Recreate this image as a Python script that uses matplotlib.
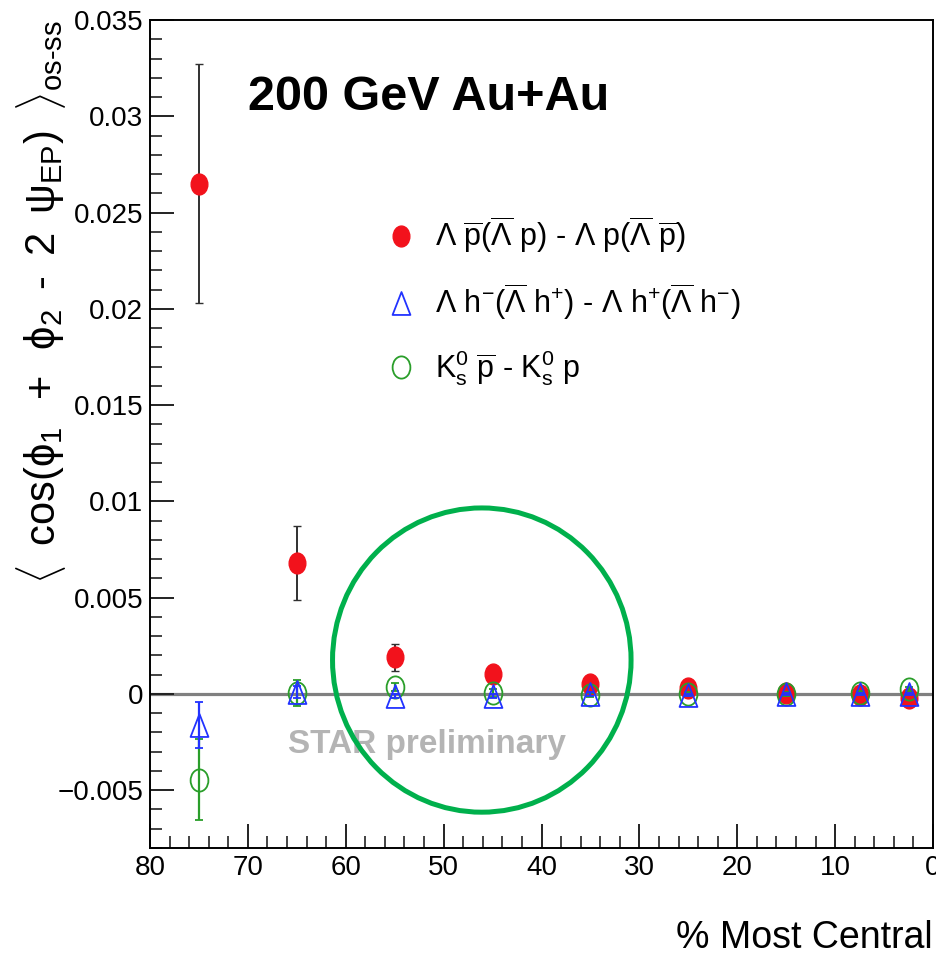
import matplotlib
matplotlib.use('Agg')
import matplotlib.pyplot as plt
from matplotlib import font_manager
from matplotlib.path import Path
from matplotlib.markers import MarkerStyle
from matplotlib.lines import Line2D
from matplotlib.patches import Ellipse
from matplotlib.ticker import MultipleLocator


#
#  Data: centrality bin centres (% most central) and the three
#  os-ss correlator differences with their statistical errors.
#
centrality = [75, 65, 55, 45, 35, 25, 15, 7.5, 2.5]

lam_p     = [0.0265, 0.0068, 0.0019, 0.00105, 0.0005, 0.0003, 0.00005, -0.00005, -0.0002]
lam_p_err = [0.0062, 0.0019, 0.0007, 0.0004, 0.0003, 0.0002, 0.00015, 0.0001, 0.0001]

lam_h     = [-0.0016, 0.0001, -0.0001, -0.0001, 0.0, -0.00005, 0.0, 0.0, 0.0]
lam_h_err = [0.0012, 0.0003, 0.0001, 0.0001, 0.0001, 0.00005, 0.00005, 0.00005, 0.00005]

k0_p      = [-0.00445, 0.00005, 0.00037, 0.00005, -0.00005, 0.0, 0.0, 0.00005, 0.00025]
k0_p_err  = [0.0021, 0.0007, 0.0002, 0.0002, 0.0001, 0.0001, 0.0001, 0.0001, 0.0001]

labels = [
    r'$\Lambda\ \overline{\mathrm{p}}(\overline{\Lambda}\ \mathrm{p})$ - $\Lambda\ \mathrm{p}(\overline{\Lambda}\ \overline{\mathrm{p}})$',
    r'$\Lambda\ \mathrm{h}^{-}(\overline{\Lambda}\ \mathrm{h}^{+})$ - $\Lambda\ \mathrm{h}^{+}(\overline{\Lambda}\ \mathrm{h}^{-})$',
    r'$\mathrm{K}^{0}_{s}\ \overline{\mathrm{p}}$ - $\mathrm{K}^{0}_{s}\ \mathrm{p}$',
]

RED   = '#f2121c'
BLUE  = '#2233ff'
GREEN = '#2a9e2a'
RING  = '#00b04c'

# Helvetica-like narrow font if we have it
installed = {f.name for f in font_manager.fontManager.ttflist}
FONT = 'Liberation Sans Narrow' if 'Liberation Sans Narrow' in installed else 'Liberation Sans'

plt.rcParams['font.family'] = [FONT, 'DejaVu Sans']
plt.rcParams['mathtext.fontset'] = 'custom'
plt.rcParams['mathtext.rm'] = FONT
plt.rcParams['mathtext.it'] = FONT
plt.rcParams['mathtext.bf'] = FONT + ':bold'


#
#  Markers: slightly tall ellipses / triangles (ROOT style)
#
circ = Path.unit_circle()
m_circle = MarkerStyle(Path(circ.vertices * [0.8, 1.0], circ.codes))
m_tri = MarkerStyle(Path([(0, 1), (-0.78, -1), (0.78, -1), (0, 1)],
                         [Path.MOVETO, Path.LINETO, Path.LINETO, Path.CLOSEPOLY]))


fig = plt.figure(figsize=(9.36, 9.59), dpi=100)
ax = fig.add_axes([150/936, 1 - 848/959, 783/936, 828/959])

ax.axhline(0, color='#808080', lw=2.3, zorder=1)

ax.errorbar(centrality, lam_p, yerr=lam_p_err, linestyle='none',
            marker=m_circle, ms=15, mfc=RED, mec=RED, mew=1,
            ecolor='#303030', elinewidth=1.4, capsize=3, capthick=1.4, zorder=3)
ax.errorbar(centrality, k0_p, yerr=k0_p_err, linestyle='none',
            marker=m_circle, ms=16, mfc='none', mec=GREEN, mew=1.3,
            ecolor=GREEN, elinewidth=1.6, capsize=3, capthick=1.6, zorder=4)
ax.errorbar(centrality, lam_h, yerr=lam_h_err, linestyle='none',
            marker=m_tri, ms=16.5, mfc='none', mec=BLUE, mew=1.3,
            ecolor=BLUE, elinewidth=1.6, capsize=3, capthick=1.6, zorder=5)

ax.set_xlim(80, 0)
ax.set_ylim(-0.008, 0.035)

ax.xaxis.set_major_locator(MultipleLocator(10))
ax.xaxis.set_minor_locator(MultipleLocator(2))
ax.yaxis.set_minor_locator(MultipleLocator(0.001))
ax.set_yticks([-0.005, 0, 0.005, 0.01, 0.015, 0.02, 0.025, 0.03, 0.035])
ax.set_yticklabels(['\u22120.005', '0', '0.005', '0.01', '0.015', '0.02', '0.025', '0.03', '0.035'])

ax.tick_params(which='both', direction='in', top=False, right=False, color='#222222')
ax.tick_params(which='major', length=17, width=1.4, labelsize=20, pad=5)
ax.tick_params(which='minor', length=8.5, width=1.2)
for s in ax.spines.values():
    s.set_linewidth(1.4)

# legend with marker-only handles
handles = [
    Line2D([], [], linestyle='none', marker=m_circle, ms=15, mfc=RED, mec=RED),
    Line2D([], [], linestyle='none', marker=m_tri, ms=16.5, mfc='none', mec=BLUE, mew=1.3),
    Line2D([], [], linestyle='none', marker=m_circle, ms=16, mfc='none', mec=GREEN, mew=1.3),
]
ax.legend(handles, labels, loc='upper left', bbox_to_anchor=(386/936, 1 - 215/959),
          bbox_transform=fig.transFigure, frameon=False, fontsize=22,
          handlelength=1.0, handletextpad=0.6, labelspacing=0.84,
          borderpad=0, borderaxespad=0)

# annotations
ax.text(0.125, 0.906, '200 GeV Au+Au', transform=ax.transAxes, fontsize=35,
        fontweight='bold', ha='left', va='center')
ax.text(51.7, -0.0026, 'STAR preliminary', fontsize=24, fontweight='bold',
        color='#b4b4b4', ha='center', va='center', zorder=2)
ax.add_patch(Ellipse((46.1, 0.00176), 30.5, 0.0158, fill=False,
                     edgecolor=RING, lw=3.6, zorder=6))

fig.text(41/936, 1 - 302/959,
         r'$\langle\;\;\mathrm{cos}(\phi_{1}\;\;+\;\;\phi_{2}\;\;\text{-}\;\;2\;\;\psi_{EP})\;\;\rangle_{\mathrm{os\text{-}ss}}$',
         rotation=90, ha='center', va='center', fontsize=30)
fig.text(933/936, 1 - 938/959, '% Most Central', ha='right', va='center', fontsize=27)

fig.savefig('out.png', dpi=100)
